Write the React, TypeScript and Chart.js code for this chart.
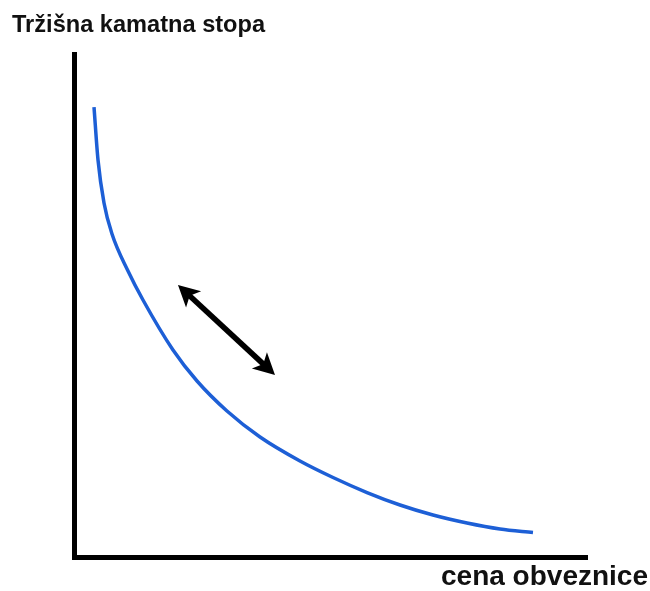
import React, { useEffect, useRef } from "react";
import { Chart, registerables } from "chart.js";

Chart.register(...registerables);

const titleText = "Tržišna kamatna stopa";
const xLabelText = "cena obveznice";

const curveX = [3.9, 4.68, 5.85, 7.41, 10.53, 13.45, 19.3, 23.98, 29.82, 36.26, 44.05, 50.49, 57.12, 63.55, 69.98, 76.61, 83.04, 89.47];
const curveY = [89.46, 78.93, 70.38, 64.21, 56.86, 51.09, 41.15, 34.99, 29.03, 23.86, 19.09, 15.81, 12.82, 10.34, 8.35, 6.76, 5.57, 4.87];

const arrowX = [20.27, 39.18];
const arrowY = [54.1, 36.2];

const drawHead = (ctx: CanvasRenderingContext2D, tx: number, ty: number, ang: number) => {
  const len = 24;
  const spread = 0.48;
  const notch = 16;
  ctx.beginPath();
  ctx.moveTo(tx, ty);
  ctx.lineTo(tx - len * Math.cos(ang - spread), ty - len * Math.sin(ang - spread));
  ctx.lineTo(tx - notch * Math.cos(ang), ty - notch * Math.sin(ang));
  ctx.lineTo(tx - len * Math.cos(ang + spread), ty - len * Math.sin(ang + spread));
  ctx.closePath();
  ctx.fill();
};

const overlay = {
  id: "overlay",
  afterDatasetsDraw(chart: any) {
    const ctx: CanvasRenderingContext2D = chart.ctx;
    const xs = chart.scales.x;
    const ys = chart.scales.y;
    const x1 = xs.getPixelForValue(arrowX[0]);
    const y1 = ys.getPixelForValue(arrowY[0]);
    const x2 = xs.getPixelForValue(arrowX[1]);
    const y2 = ys.getPixelForValue(arrowY[1]);
    const ang = Math.atan2(y2 - y1, x2 - x1);
    ctx.save();
    ctx.strokeStyle = "#000";
    ctx.fillStyle = "#000";
    ctx.lineWidth = 5.5;
    ctx.beginPath();
    ctx.moveTo(x1 + 14 * Math.cos(ang), y1 + 14 * Math.sin(ang));
    ctx.lineTo(x2 - 14 * Math.cos(ang), y2 - 14 * Math.sin(ang));
    ctx.stroke();
    drawHead(ctx, x2, y2, ang);
    drawHead(ctx, x1, y1, ang + Math.PI);

    ctx.fillStyle = "#111";
    ctx.textBaseline = "alphabetic";
    ctx.textAlign = "left";
    ctx.font = "bold 23.6px 'Liberation Sans', Arial, sans-serif";
    ctx.fillText(titleText, 12, 32);
    ctx.font = "bold 28px 'Liberation Sans', Arial, sans-serif";
    ctx.textAlign = "right";
    ctx.fillText(xLabelText, 648, 585);
    ctx.restore();
  },
};

export default function App() {
  const ref = useRef<HTMLCanvasElement | null>(null);
  useEffect(() => {
    if (!ref.current) return;
    const chart = new Chart(ref.current, {
      type: "scatter",
      data: {
        datasets: [
          {
            data: curveX.map((x, i) => ({ x, y: curveY[i] })),
            showLine: true,
            borderColor: "#1d5fd6",
            borderWidth: 3.5,
            pointRadius: 0,
            cubicInterpolationMode: "monotone",
            fill: false,
          },
        ],
      },
      options: {
        animation: false,
        responsive: true,
        maintainAspectRatio: false,
        layout: { padding: { left: 74, top: 54, right: 63, bottom: 34 } },
        plugins: { legend: { display: false }, tooltip: { enabled: false }, title: { display: false } },
        scales: {
          x: {
            type: "linear",
            min: 0,
            max: 100,
            grid: { display: false },
            ticks: { display: false },
            border: { display: true, width: 5, color: "#000" },
            afterFit: (s: any) => { s.height = 0; },
          },
          y: {
            type: "linear",
            min: 0,
            max: 100,
            grid: { display: false },
            ticks: { display: false },
            border: { display: true, width: 5, color: "#000" },
            afterFit: (s: any) => { s.width = 0; },
          },
        },
      },
      plugins: [overlay],
    } as any);
    return () => chart.destroy();
  }, []);
  return (
    <div style={{ position: "fixed", left: 0, top: 0, width: 650, height: 591, background: "#fff" }}>
      <canvas ref={ref} />
    </div>
  );
}
